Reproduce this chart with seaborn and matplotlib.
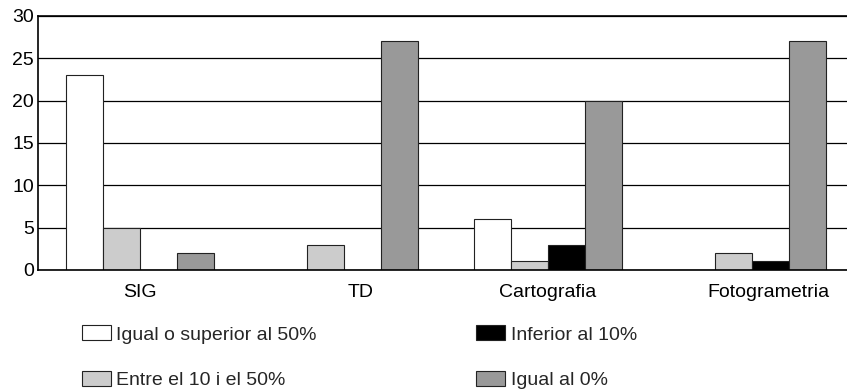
import pandas as pd
import numpy as np
import matplotlib
matplotlib.use('Agg')
import matplotlib.pyplot as plt
import matplotlib.transforms as mtransforms
import seaborn as sns

categories = ['SIG', 'TD', 'Cartografia', 'Fotogrametria']
series = ['Igual o superior al 50%', 'Entre el 10 i el 50%', 'Inferior al 10%', 'Igual al 0%']
superior_50 = [23, 0, 6, 0]
entre_10_50 = [5, 3, 1, 2]
inferior_10 = [0, 0, 3, 1]
igual_0 = [2, 27, 20, 27]
colors = ['#ffffff', '#cccccc', '#000000', '#999999']

df = pd.DataFrame({'categoria': categories * 4,
                   'serie': np.repeat(series, 4),
                   'valor': superior_50 + entre_10_50 + inferior_10 + igual_0})

sns.set_style('white')
plt.rcParams['font.family'] = ['Liberation Sans', 'DejaVu Sans']

fig = plt.figure(figsize=(8.47, 3.89), dpi=100)
ax = fig.add_axes([0.045, 0.306, 0.963, 0.653])
sns.barplot(data=df, x='categoria', y='valor', hue='serie', hue_order=series,
            palette=colors, width=0.725, edgecolor='#222222', linewidth=0.8,
            saturation=1, ax=ax, legend=False)

ax.set_ylim(0, 30)
ax.set_yticks([0, 5, 10, 15, 20, 25, 30])
ax.yaxis.grid(True, color='black', linewidth=0.9)
ax.set_axisbelow(True)
ax.set_xlabel('')
ax.set_ylabel('')
ax.tick_params(axis='both', length=0, colors='black')
ax.tick_params(axis='x', pad=10, labelsize=14)
ax.tick_params(axis='y', pad=3, labelsize=14)
for s in ['left', 'top', 'bottom']:
    ax.spines[s].set_color('black')
    ax.spines[s].set_linewidth(1.2)
ax.spines['right'].set_visible(False)

# en l'original, les etiquetes TD i Fotogrametria queden una mica desplaçades a la dreta
shift = mtransforms.ScaledTranslation(0.17, 0, fig.dpi_scale_trans)
for i, lab in enumerate(ax.get_xticklabels()):
    if i in (1, 3):
        lab.set_transform(lab.get_transform() + shift)

handles = [plt.Rectangle((0, 0), 1, 1, facecolor=c, edgecolor='#222222', linewidth=0.8) for c in colors]
fig.legend(handles, series, ncol=2, loc='upper left', bbox_to_anchor=(0.097, 0.164),
           frameon=False, fontsize=14, handlelength=1.5, handleheight=0.82,
           handletextpad=0.26, columnspacing=8.2, labelspacing=1.4, borderaxespad=0,
           borderpad=0)

fig.savefig('out.png', dpi=100)
